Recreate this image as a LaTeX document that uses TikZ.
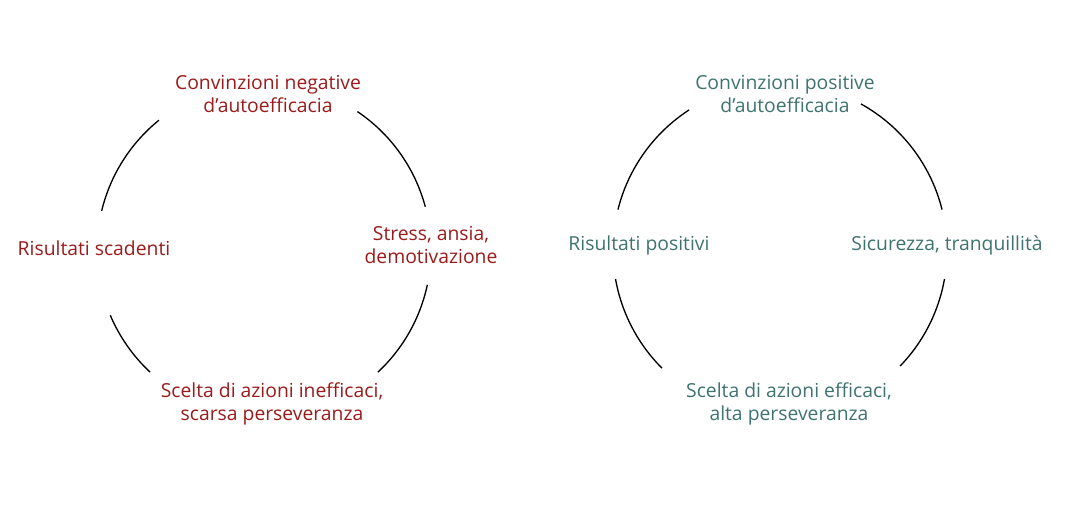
\documentclass[tikz,border=0pt]{standalone}
\usepackage{fontspec}
\setmainfont{Open Sans}
\usetikzlibrary{calc}
\definecolor{negred}{HTML}{9B1B1B}
\definecolor{posteal}{HTML}{3E7370}
\begin{document}
\begin{tikzpicture}[x=0.75pt,y=-0.75pt,
  lbl/.style={font=\fontsize{14.5}{17.5}\selectfont, align=center, inner sep=1pt},
  neglbl/.style={lbl, text=negred},
  poslbl/.style={lbl, text=posteal},
  arcline/.style={line width=1pt, black}]
\useasboundingbox (0,0) rectangle (1067,519);
\coordinate (cl) at (264,250);
\coordinate (cr) at (780,250);
% left circle arcs (angles negated because y is flipped)
\draw[arcline] ($(cl)+(-166.5:167)$) arc[start angle=-166.5,end angle=-129,radius=167];
\draw[arcline] ($(cl)+(-56:167)$) arc[start angle=-56,end angle=-15,radius=167];
\draw[arcline] ($(cl)+(12:167)$) arc[start angle=12,end angle=47,radius=167];
\draw[arcline] ($(cl)+(133:167)$) arc[start angle=133,end angle=157,radius=167];
% right circle arcs
\draw[arcline] ($(cr)+(-166:167)$) arc[start angle=-166,end angle=-123,radius=167];
\draw[arcline] ($(cr)+(-61:167)$) arc[start angle=-61,end angle=-14,radius=167];
\draw[arcline] ($(cr)+(10:167)$) arc[start angle=10,end angle=44,radius=167];
\draw[arcline] ($(cr)+(135:167)$) arc[start angle=135,end angle=170,radius=167];
% left labels
\node[neglbl] (ntop) at (268,94) {Convinzioni negative\\d'autoefficacia};
\node[neglbl] (nright) at (431,245) {Stress, ansia,\\demotivazione};
\node[neglbl] (nbot) at (272,404) {Scelta di azioni inefficaci,\\scarsa perseveranza};
\node[neglbl] (nleft) at (94,248) {Risultati scadenti};
% right labels
\node[poslbl] (ptop) at (785,94) {Convinzioni positive\\d'autoefficacia};
\node[poslbl] (pright) at (947,245) {Sicurezza, tranquillità};
\node[poslbl] (pbot) at (789,404) {Scelta di azioni efficaci,\\alta perseveranza};
\node[poslbl] (pleft) at (639,245) {Risultati positivi};
\end{tikzpicture}
\end{document}
